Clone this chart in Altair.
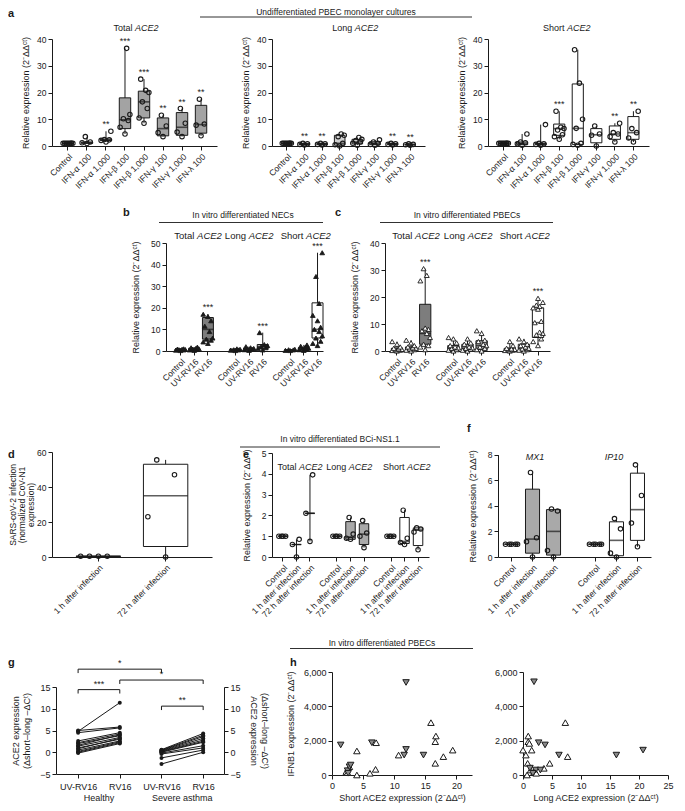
import altair as alt
import pandas as pd

FONT = "Liberation Sans"
INK = "#1a1a1a"
W, H = 669, 795
ONE = pd.DataFrame({"k": [0]})
RELT = "Relative expression (2⁻ΔΔᶜᵗ)"

# ---------------- panel a : undifferentiated PBEC monolayers ----------------
a_cats = ["Control", "IFN-α 100", "IFN-α 1,000", "IFN-β 100", "IFN-β 1,000",
          "IFN-γ 100", "IFN-γ 1,000", "IFN-λ 100"]
a1_lo = [1.0, 0.8, 1.5, 4.5, 8.5, 3.5, 3.5, 3.8]
a1_q1 = [1.0, 1.0, 2.0, 6.5, 10.5, 3.8, 4.0, 4.8]
a1_med = [1.0, 1.2, 2.2, 9.8, 16.5, 6.5, 7.0, 8.0]
a1_q3 = [1.0, 1.5, 2.6, 18.0, 20.5, 10.5, 12.5, 15.2]
a1_hi = [1.0, 3.5, 5.5, 36.5, 25.0, 11.5, 14.0, 17.5]
a1_star = ["", "", "**", "***", "***", "**", "**", "**"]
a1_pts = {
    "Control": [1, 1, 1, 1, 1, 1, 1, 1],
    "IFN-α 100": [0.9, 1.2, 1.5, 3.5],
    "IFN-α 1,000": [1.5, 2.1, 2.3, 2.4, 5.5],
    "IFN-β 100": [4.5, 7.0, 9.5, 10.2, 11.8, 36.5],
    "IFN-β 1,000": [8.5, 10.5, 14.0, 16.5, 20.0, 20.8, 25.0],
    "IFN-γ 100": [3.5, 5.0, 7.5, 11.5],
    "IFN-γ 1,000": [3.5, 5.2, 8.5, 14.0],
    "IFN-λ 100": [3.8, 7.8, 8.2, 17.5],
}
a2_lo = [1.0, 0.4, 0.4, 0.0, 0.3, 0.3, 0.4, 0.3]
a2_q1 = [1.0, 0.5, 0.5, 0.3, 0.8, 0.5, 0.5, 0.4]
a2_med = [1.0, 0.6, 0.7, 1.0, 1.5, 1.0, 0.7, 0.5]
a2_q3 = [1.0, 0.9, 0.9, 4.0, 2.5, 1.6, 0.9, 0.7]
a2_hi = [1.0, 1.0, 1.0, 4.5, 3.2, 2.3, 1.0, 0.8]
a2_star = ["", "**", "**", "", "", "", "**", "**"]
a2_pts = {
    "Control": [1, 1, 1, 1, 1, 1, 1, 1],
    "IFN-α 100": [0.4, 0.6, 0.8, 1.0],
    "IFN-α 1,000": [0.4, 0.6, 0.8, 1.0],
    "IFN-β 100": [0.0, 0.5, 1.0, 3.5, 4.0, 4.5],
    "IFN-β 1,000": [0.3, 1.0, 1.5, 2.0, 2.5, 3.2],
    "IFN-γ 100": [0.3, 0.6, 1.0, 1.5, 2.3],
    "IFN-γ 1,000": [0.4, 0.6, 0.8, 1.0],
    "IFN-λ 100": [0.3, 0.5, 0.6, 0.8],
}
a3_lo = [1.0, 0.3, 0.3, 2.5, 0.3, 0.0, 1.5, 1.5]
a3_q1 = [1.0, 0.5, 0.5, 4.0, 0.6, 1.2, 2.5, 2.5]
a3_med = [1.0, 1.0, 0.8, 6.5, 6.6, 4.2, 4.5, 5.0]
a3_q3 = [1.0, 1.5, 1.0, 8.2, 23.2, 6.5, 7.5, 11.0]
a3_hi = [1.0, 4.5, 8.0, 13.0, 36.0, 7.5, 8.5, 13.0]
a3_star = ["", "", "", "***", "", "", "**", "**"]
a3_pts = {
    "Control": [1, 1, 1, 1, 1, 1, 1, 1],
    "IFN-α 100": [0.3, 0.8, 1.2, 1.5, 4.5],
    "IFN-α 1,000": [0.3, 0.6, 0.8, 1.0, 8.0],
    "IFN-β 100": [2.5, 3.5, 4.2, 6.0, 6.5, 7.0, 13.0],
    "IFN-β 1,000": [0.3, 0.6, 1.0, 6.6, 10.0, 23.5, 36.0],
    "IFN-γ 100": [0.0, 4.0, 4.5, 7.5],
    "IFN-γ 1,000": [1.5, 3.5, 4.5, 5.0, 8.5],
    "IFN-λ 100": [1.5, 3.0, 5.0, 6.5, 13.0],
}

# ---------------- panels b, c : RV16 infection ----------------
rv_keys = ["T|Control", "T|UV-RV16", "T|RV16", "gap1",
           "L|Control", "L|UV-RV16", "L|RV16", "gap2",
           "S|Control", "S|UV-RV16", "S|RV16"]
rv_groups = [k for k in rv_keys if not k.startswith("gap")]
b_lo = [0.2, 0.3, 3.5, 0.2, 0.3, 0.5, 0.2, 0.3, 2.5]
b_q1 = [0.5, 0.6, 5.5, 0.4, 0.6, 1.0, 0.4, 0.6, 6.0]
b_med = [0.7, 0.9, 10.0, 0.6, 0.9, 2.0, 0.5, 1.0, 10.0]
b_q3 = [0.9, 1.3, 15.5, 0.9, 1.3, 3.0, 0.6, 1.5, 22.3]
b_hi = [1.0, 1.8, 17.0, 1.0, 2.0, 8.5, 0.8, 2.8, 45.5]
b_star = ["", "", "***", "", "", "***", "", "", "***"]
b_pts = {
    "T|Control": [0.2, 0.4, 0.5, 0.6, 0.7, 0.8, 0.9, 1.0],
    "T|UV-RV16": [0.3, 0.5, 0.7, 0.9, 1.0, 1.2, 1.5, 1.8],
    "T|RV16": [3.5, 4.2, 5.0, 5.5, 6.0, 9.0, 11.5, 14.0, 16.0, 17.0],
    "L|Control": [0.2, 0.4, 0.5, 0.6, 0.8, 1.0],
    "L|UV-RV16": [0.3, 0.6, 0.8, 1.0, 1.2, 1.5, 2.0],
    "L|RV16": [0.5, 1.0, 1.5, 2.0, 2.5, 3.0, 8.5],
    "S|Control": [0.2, 0.3, 0.5, 0.6, 0.8],
    "S|UV-RV16": [0.3, 0.6, 0.8, 1.0, 1.3, 1.8, 2.2, 2.8],
    "S|RV16": [2.5, 3.5, 4.5, 6.0, 7.0, 9.0, 10.0, 11.0, 14.0, 16.5, 22.0, 34.5, 45.5],
}
c_lo = [0.0, 0.0, 0.5, 0.0, 0.0, 0.0, 0.0, 0.0, 2.0]
c_q1 = [0.2, 0.3, 2.5, 0.2, 0.3, 0.5, 0.2, 0.3, 5.0]
c_med = [0.5, 0.8, 6.5, 1.0, 1.0, 2.0, 0.5, 1.0, 10.5]
c_q3 = [1.0, 1.5, 17.3, 2.0, 2.5, 3.8, 1.0, 2.5, 16.0]
c_hi = [3.5, 4.0, 30.5, 5.0, 4.5, 7.5, 3.5, 4.5, 19.5]
c_star = ["", "", "***", "", "", "", "", "", "***"]
c_pts = {
    "T|Control": [0.0, 0.2, 0.3, 0.5, 0.6, 0.8, 1.0, 1.5, 2.5, 3.5],
    "T|UV-RV16": [0.0, 0.3, 0.5, 0.8, 1.0, 1.2, 1.5, 2.0, 3.0, 4.0],
    "T|RV16": [0.5, 1.5, 2.0, 2.5, 5.0, 6.5, 7.5, 8.0, 8.5, 26.0, 28.0, 30.5],
    "L|Control": [0.0, 0.3, 0.5, 1.0, 1.2, 1.5, 2.0, 3.0, 4.5, 5.0],
    "L|UV-RV16": [0.0, 0.3, 0.6, 1.0, 1.2, 1.5, 2.5, 3.0, 4.5],
    "L|RV16": [0.0, 0.5, 1.0, 1.5, 2.0, 2.5, 3.5, 4.0, 6.5, 7.5],
    "S|Control": [0.0, 0.2, 0.3, 0.5, 0.6, 0.8, 1.0, 2.0, 3.5],
    "S|UV-RV16": [0.0, 0.3, 0.5, 0.8, 1.0, 1.5, 2.0, 2.5, 3.5, 4.5],
    "S|RV16": [2.0, 3.5, 4.5, 6.0, 6.5, 7.0, 10.5, 11.0, 15.5, 16.0, 16.5, 17.0, 18.0, 19.5],
}

# ---------------- panel d : SARS-CoV-2 ----------------
d_cats = ["1 h after infection", "72 h after infection"]
d_lo = [0.0, 0.0]
d_q1 = [0.3, 6.0]
d_med = [0.4, 35.0]
d_q3 = [0.5, 53.0]
d_hi = [0.6, 55.5]
d_pts = {"1 h after infection": [0.4, 0.4, 0.4, 0.4],
         "72 h after infection": [0.0, 23.0, 47.0, 55.5]}

# ---------------- panel e : BCi-NS1.1 ACE2 ----------------
e_keys = ["T|Control", "T|1 h after infection", "T|72 h after infection", "gap1",
          "L|Control", "L|1 h after infection", "L|72 h after infection", "gap2",
          "S|Control", "S|1 h after infection", "S|72 h after infection"]
e_groups = [k for k in e_keys if not k.startswith("gap")]
e_lo = [1.0, 0.0, 0.75, 1.0, 0.85, 0.45, 1.0, 0.6, 0.35]
e_q1 = [1.0, 0.6, 2.1, 1.0, 0.85, 0.6, 1.0, 0.65, 0.55]
e_med = [1.0, 0.6, 2.1, 1.0, 0.95, 1.1, 1.0, 0.75, 1.3]
e_q3 = [1.0, 0.6, 2.1, 1.0, 1.7, 1.6, 1.0, 1.9, 1.4]
e_hi = [1.0, 0.85, 3.95, 1.0, 1.9, 1.75, 1.0, 2.25, 1.4]
e_pts = {
    "T|Control": [1, 1, 1, 1],
    "T|1 h after infection": [0.0, 0.6, 0.85],
    "T|72 h after infection": [0.75, 2.1, 3.95],
    "L|Control": [1, 1, 1, 1],
    "L|1 h after infection": [0.85, 0.9, 1.1, 1.9],
    "L|72 h after infection": [0.45, 1.0, 1.15, 1.75],
    "S|Control": [1, 1, 1, 1],
    "S|1 h after infection": [0.6, 0.7, 0.9, 2.25],
    "S|72 h after infection": [0.35, 1.2, 1.35, 1.4],
}

# ---------------- panel f : MX1 / IP10 ----------------
f_keys = ["M|Control", "M|1 h after infection", "M|72 h after infection", "gap",
          "I|Control", "I|1 h after infection", "I|72 h after infection"]
f_groups = [k for k in f_keys if k != "gap"]
f_lo = [1.0, 0.0, 0.0, 1.0, 0.0, 0.8]
f_q1 = [1.0, 0.3, 0.15, 1.0, 0.1, 1.3]
f_med = [1.0, 1.4, 2.0, 1.0, 1.3, 3.7]
f_q3 = [1.0, 5.3, 3.7, 1.0, 2.75, 6.55]
f_hi = [1.0, 6.6, 3.75, 1.0, 3.0, 7.2]
f_pts = {
    "M|Control": [1, 1, 1, 1, 1],
    "M|1 h after infection": [0.0, 1.2, 1.5, 6.6],
    "M|72 h after infection": [0.0, 0.5, 3.6, 3.75],
    "I|Control": [1, 1, 1, 1, 1],
    "I|1 h after infection": [0.0, 0.3, 2.2, 3.0],
    "I|72 h after infection": [0.8, 2.65, 4.8, 7.2],
}

# ---------------- panel g : paired short-long ----------------
g_healthy_uv = [4.8, 5.0, 4.5, 2.6, 2.2, 2.0, 1.6, 1.4, 1.0, 0.8, 0.5, 0.2, 0.0, -0.2]
g_healthy_rv = [11.4, 5.8, 5.6, 4.5, 4.2, 3.8, 4.0, 3.4, 3.0, 3.2, 2.6, 2.4, 2.2, 2.0]
g_asthma_uv = [0.6, 0.5, 0.4, 0.3, 0.2, 0.1, 0.0, -0.2, -0.4, -1.3, -2.7]
g_asthma_rv = [4.3, 3.9, 3.6, 3.2, 2.8, 2.5, 2.3, 1.5, 1.0, 0.5, 0.0]
g_tick_names = ["UV-RV16", "RV16", "UV-RV16", "RV16"]
g_brk_from = [0, 1, 0, 2]
g_brk_to = [2, 3, 1, 3]
g_brk_level = [19.1, 16.6, 14.4, 10.6]
g_brk_label = ["*", "*", "***", "**"]
g_groups = ["Healthy", "Severe asthma"]
g_group_pos = [0.5, 2.5]

# ---------------- panel h : IFNB1 vs ACE2 ----------------
h1_up_x = [2.3, 2.5, 2.8, 4.0, 4.0, 6.1, 7.0, 7.1, 10.7, 15.9, 16.7, 16.6, 16.6, 17.9, 19.4]
h1_up_y = [200, 135, 480, 1400, 0, 100, 330, 1880, 1160, 3050, 2270, 1940, 680, 1070, 1450]
h1_dn_x = [1.4, 2.5, 2.8, 3.0, 6.4, 11.9, 11.9, 11.6, 14.7, 2.6]
h1_dn_y = [1750, 250, 480, 580, 1880, 5390, 1490, 1160, 1160, 100]
h2_up_x = [0.0, 0.5, 0.7, 0.8, 0.9, 0.9, 1.1, 1.5, 1.3, 1.9, 2.3, 4.6, 3.6, 7.3, 7.7]
h2_up_y = [1450, 1160, 0, 680, 2270, 1940, 1840, 1450, 290, 200, 100, 680, 390, 3050, 1070]
h2_dn_x = [1.9, 2.7, 3.8, 6.2, 16.1, 20.7, 2.2, 3.0, 1.7, 1.2]
h2_dn_y = [5430, 1880, 1750, 1160, 1160, 1450, 290, 290, 100, 400]


# ================= helpers =================
def ax(**kw):
    base = dict(domainColor=INK, tickColor=INK, labelColor=INK, titleColor=INK,
                labelFont=FONT, titleFont=FONT, labelFontSize=8.5, titleFontSize=9,
                titleFontWeight="normal", tickSize=4, labelPadding=2, grid=False,
                domainWidth=1, tickWidth=1, labelFlush=False)
    base.update(kw)
    return alt.Axis(**base)


def box_panel(keys, groups, lo, q1, med, q3, hi, pts, xr, yr, ydom, yvals,
              fills, stars, ytitle, pi, po, align=0.5, tpad=10,
              shape="circle", pfilled=False, pfill=INK, psize=20, nslots=7,
              label_expr=None, title_lh=None, title_size=9):
    stats = pd.DataFrame({"cat": groups, "lo": lo, "q1": q1, "med": med,
                          "q3": q3, "hi": hi, "fill": fills, "star": stars})
    rows = []
    for g in groups:
        for i, v in enumerate(pts[g]):
            rows.append({"cat": g, "val": v,
                         "slot": int(((i * 0.618034 + 0.5) % 1.0) * nslots)})
    pdf = pd.DataFrame(rows)
    step = (xr[1] - xr[0]) / (len(keys) - pi + 2 * po)
    bw = step * (1 - pi)
    xkw = dict(orient="bottom", offset=yr[0] - H, values=groups, labelAngle=-45, title=None)
    if label_expr:
        xkw["labelExpr"] = label_expr
    xenc = alt.X("cat:N", scale=alt.Scale(domain=keys, range=list(xr), paddingInner=pi,
                                          paddingOuter=po, align=align), axis=ax(**xkw))
    ykw = dict(orient="left", offset=-xr[0], values=yvals, title=ytitle, titlePadding=tpad,
               titleFontSize=title_size)
    if title_lh:
        ykw["titleLineHeight"] = title_lh
    ys = alt.Scale(domain=ydom, range=list(yr), nice=False, zero=False)
    yax = ax(**ykw)
    base = alt.Chart(stats)
    whisk = base.mark_rule(color=INK, strokeWidth=1).encode(
        x=xenc, y=alt.Y("lo:Q", scale=ys, axis=yax), y2="hi:Q")
    box = base.mark_bar(stroke=INK, strokeWidth=1, width=bw).encode(
        x=xenc, y=alt.Y("q1:Q", scale=ys, axis=yax), y2="q3:Q",
        fill=alt.Fill("fill:N", scale=None))
    medt = base.mark_tick(color=INK, thickness=1.6, size=bw).encode(
        x=xenc, y=alt.Y("med:Q", scale=ys, axis=yax))
    if pfilled:
        pm = alt.Chart(pdf).mark_point(shape=shape, filled=True, fill=pfill, stroke=INK,
                                       strokeWidth=0.9, size=psize, opacity=1)
    else:
        pm = alt.Chart(pdf).mark_point(shape=shape, filled=False, stroke=INK,
                                       strokeWidth=1.1, size=psize, opacity=1)
    points = pm.encode(x=xenc,
                       xOffset=alt.XOffset("slot:O", scale=alt.Scale(domain=list(range(nslots)))),
                       y=alt.Y("val:Q", scale=ys, axis=yax))
    st = base.mark_text(font=FONT, fontSize=9, color=INK, baseline="bottom", dy=-2).encode(
        x=xenc, y=alt.Y("hi:Q", scale=ys, axis=yax), text="star:N")
    return alt.layer(whisk, box, medt, points, st)


def txt(s, x, y, size=9, weight="normal", style="normal", align="center", baseline="middle"):
    return alt.Chart(ONE).mark_text(text=s, fontSize=size, fontWeight=weight, fontStyle=style,
                                    font=FONT, color=INK, align=align, baseline=baseline
                                    ).encode(x=alt.value(x), y=alt.value(y))


def mixed(normal, ital, cx, y, size=9):
    wn = len(normal) * 0.5 * size
    wi = len(ital) * 0.64 * size
    sp = 0.28 * size
    x0 = cx - (wn + sp + wi) / 2 + wn
    return [txt(normal, x0, y, size, align="right"),
            txt(ital, x0 + sp, y, size, style="italic", align="left")]


def hrule(x1, x2, y):
    return alt.Chart(ONE).mark_rule(color=INK, strokeWidth=0.9).encode(
        x=alt.value(x1), x2=alt.value(x2), y=alt.value(y))


def tone(n, c):
    return [c] * n


# ================= panels =================
GREY_T, GREY_L, GREY_A = "#7d7d7d", "#a9a9a9", "#a3a3a3"
rv_fills = [GREY_T] * 3 + [GREY_L] * 3 + ["white"] * 3

a1 = box_panel(a_cats, a_cats, a1_lo, a1_q1, a1_med, a1_q3, a1_hi, a1_pts,
               (44, 209), (138, 31), [0, 40], [0, 10, 20, 30, 40], tone(8, GREY_A),
               a1_star, RELT, 0.4, 0.54, tpad=6)
a2 = box_panel(a_cats, a_cats, a2_lo, a2_q1, a2_med, a2_q3, a2_hi, a2_pts,
               (264, 417), (138, 31), [0, 40], [0, 10, 20, 30, 40], tone(8, "#cfcfcf"),
               a2_star, RELT, 0.4, 0.54, tpad=6)
a3 = box_panel(a_cats, a_cats, a3_lo, a3_q1, a3_med, a3_q3, a3_hi, a3_pts,
               (480, 641), (138, 31), [0, 40], [0, 10, 20, 30, 40], tone(8, "white"),
               a3_star, RELT, 0.4, 0.54, tpad=6)
LX = "split(datum.value, '|')[1]"
pb = box_panel(rv_keys, rv_groups, b_lo, b_q1, b_med, b_q3, b_hi, b_pts,
               (158, 315), (343, 235), [0, 50], [0, 10, 20, 30, 40, 50], rv_fills,
               b_star, RELT, 0.2, 0.33, align=1, shape="triangle-up", pfilled=True,
               pfill=INK, psize=22, label_expr=LX)
pc = box_panel(rv_keys, rv_groups, c_lo, c_q1, c_med, c_q3, c_hi, c_pts,
               (377, 542), (343, 235), [0, 40], [0, 10, 20, 30, 40], rv_fills,
               c_star, RELT, 0.2, 0.45, shape="triangle-up", pfilled=True,
               pfill="white", psize=24, label_expr=LX)
pd_ = box_panel(d_cats, d_cats, d_lo, d_q1, d_med, d_q3, d_hi, d_pts,
                (44, 204), (549, 444), [0, 60], [0, 20, 40, 60], tone(2, "white"),
                ["", ""], ["SARS-coV-2 infection", "(normalized CoV-N1", "expression)"],
                0.34, 0.36, tpad=1, title_lh=9, title_size=8.5, nslots=5)
pe = box_panel(e_keys, e_groups, e_lo, e_q1, e_med, e_q3, e_hi, e_pts,
               (264, 421), (549, 445), [0, 5], [0, 1, 2, 3, 4, 5],
               ["white"] * 3 + [GREY_L] * 3 + ["white"] * 3, tone(9, ""), RELT,
               0.3, 0.46, label_expr=LX)
pf = box_panel(f_keys, f_groups, f_lo, f_q1, f_med, f_q3, f_hi, f_pts,
               (490, 643), (549, 446.6), [0, 8], [0, 2, 4, 6, 8],
               [GREY_L] * 3 + ["white"] * 3, tone(6, ""), RELT, 0.33, 0.31,
               label_expr=LX)

# ---- panel g ----
g_rows = []
for i, (u, r) in enumerate(zip(g_healthy_uv, g_healthy_rv)):
    g_rows += [{"pid": f"h{i}", "pos": 0, "val": u}, {"pid": f"h{i}", "pos": 1, "val": r}]
for i, (u, r) in enumerate(zip(g_asthma_uv, g_asthma_rv)):
    g_rows += [{"pid": f"a{i}", "pos": 2, "val": u}, {"pid": f"a{i}", "pos": 3, "val": r}]
gdf = pd.DataFrame(g_rows)
gxs = alt.Scale(domain=[-0.53, 3.5], range=[48, 216], nice=False, zero=False)
gys = alt.Scale(domain=[-5, 15], range=[766, 679], nice=False, zero=False)
g_name_expr = "[" + ",".join(f"'{n}'" for n in g_tick_names) + "][datum.value]"
g_xaxis = ax(orient="bottom", offset=766 - H, values=[0, 1, 2, 3], title=None,
             labelExpr=g_name_expr, labelFontSize=9, labelPadding=4, labelAngle=0)
g_title = ["ACE2 expression", "(Δshort–long –ΔCᵗ)"]


def gX(field):
    return alt.X(field, type="quantitative", scale=gxs, axis=g_xaxis)


g_lines = alt.Chart(gdf).mark_line(color=INK, strokeWidth=1).encode(
    x=gX("pos"), y=alt.Y("val:Q", scale=gys,
                         axis=ax(orient="left", offset=-48, values=[-5, 0, 5, 10, 15],
                                 title=g_title, titlePadding=8, labelFontSize=9)),
    detail="pid:N")
g_pts = alt.Chart(gdf).mark_circle(size=16, color=INK, opacity=1).encode(
    x=gX("pos"), y=alt.Y("val:Q", scale=gys, axis=None))
g_right = alt.Chart(gdf).mark_point(opacity=0).encode(
    x=gX("pos"), y=alt.Y("val:Q", scale=gys,
                         axis=ax(orient="right", offset=216 - W, values=[-5, 0, 5, 10, 15],
                                 title=list(reversed(g_title)), titleAngle=90, titlePadding=8,
                                 labelFontSize=9)))
bdf = pd.DataFrame({"x1": g_brk_from, "x2": g_brk_to, "lev": g_brk_level, "lab": g_brk_label})
bb = alt.Chart(bdf).transform_calculate(mid="(datum.x1 + datum.x2) / 2", low="datum.lev - 0.9")
by = alt.Y("lev:Q", scale=gys, axis=None)
g_b1 = bb.mark_rule(color=INK, strokeWidth=1).encode(x=gX("x1"), x2="x2:Q", y=by)
g_b2 = bb.mark_rule(color=INK, strokeWidth=1).encode(x=gX("x1"), y=by, y2="low:Q")
g_b3 = bb.mark_rule(color=INK, strokeWidth=1).encode(x=gX("x2"), y=by, y2="low:Q")
g_b4 = bb.mark_text(font=FONT, fontSize=9, color=INK, baseline="bottom", dy=-1).encode(
    x=gX("mid"), y=by, text="lab:N")
g_grp = alt.Chart(pd.DataFrame({"lab": g_groups, "pos": g_group_pos})).mark_text(
    font=FONT, fontSize=9, color=INK, baseline="middle").encode(
    x=gX("pos"), y=alt.value(790), text="lab:N")
pg = alt.layer(g_lines, g_pts, g_right, g_b1, g_b2, g_b3, g_b4, g_grp).resolve_axis(y="independent")


# ---- panel h ----
def scatter(upx, upy, dnx, dny, xr, xdom, xvals, xtitle, ytitle):
    hys = alt.Scale(domain=[0, 6000], range=[767, 664], nice=False, zero=False)
    hxs = alt.Scale(domain=xdom, range=list(xr), nice=False, zero=False)
    xa = ax(orient="bottom", offset=767 - H, values=xvals, title=xtitle, titlePadding=3,
            labelFontSize=9)
    ykw = dict(orient="left", offset=-xr[0], values=[0, 2000, 4000, 6000],
               labelExpr="format(datum.value, ',.0f')",
               title=ytitle, titlePadding=8, labelFontSize=9)
    ya = ax(**ykw)
    up = alt.Chart(pd.DataFrame({"x": upx, "y": upy})).mark_point(
        shape="triangle-up", filled=True, fill="white", stroke=INK, strokeWidth=1,
        size=42, opacity=1).encode(x=alt.X("x:Q", scale=hxs, axis=xa),
                                   y=alt.Y("y:Q", scale=hys, axis=ya))
    dn = alt.Chart(pd.DataFrame({"x": dnx, "y": dny})).mark_point(
        shape="triangle-down", filled=True, fill="#8a8a8a", stroke=INK, strokeWidth=1,
        size=42, opacity=1).encode(x=alt.X("x:Q", scale=hxs, axis=xa),
                                   y=alt.Y("y:Q", scale=hys, axis=ya))
    return alt.layer(up, dn)


ph1 = scatter(h1_up_x, h1_up_y, h1_dn_x, h1_dn_y, (324, 464), [0, 22.5],
              [0, 5, 10, 15, 20], "Short ACE2 expression (2⁻ΔΔᶜᵗ)",
              "IFNB1 expression (2⁻ΔΔᶜᵗ)")
ph2 = scatter(h2_up_x, h2_up_y, h2_dn_x, h2_dn_y, (515, 660), [0, 25],
              [0, 5, 10, 15, 20, 25], "Long ACE2 expression (2⁻ΔΔᶜᵗ)", None)

# ================= annotations =================
ann = [
    txt("a", 0, 0, 11, weight="bold", align="left", baseline="top"),
    txt("Undifferentiated PBEC monolayer cultures", 328, 3.5, 8.5),
    hrule(192, 464, 9),
    *mixed("Total", "ACE2", 126, 20),
    *mixed("Long", "ACE2", 348, 20),
    *mixed("Short", "ACE2", 558, 20),
    txt("b", 115, 205, 11, weight="bold", align="left"),
    txt("In vitro differentiated NECs", 235, 207, 8.5),
    hrule(151, 315, 214.5),
    *mixed("Total", "ACE2", 188, 228, 9.5),
    *mixed("Long", "ACE2", 242, 228, 9.5),
    *mixed("Short", "ACE2", 297, 228, 9.5),
    txt("c", 327, 205, 11, weight="bold", align="left"),
    txt("In vitro differentiated PBECs", 459, 207, 8.5),
    hrule(372, 545, 214.5),
    *mixed("Total", "ACE2", 406, 228, 9.5),
    *mixed("Long", "ACE2", 461, 228, 9.5),
    *mixed("Short", "ACE2", 516, 228, 9.5),
    txt("In vitro differentiated BCi-NS1.1", 332, 431, 8.5),
    hrule(232, 432, 439),
    txt("d", 0, 447, 11, weight="bold", align="left"),
    txt("e", 235, 447, 11, weight="bold", align="left"),
    txt("f", 459, 421, 11, weight="bold", align="left"),
    *mixed("Total", "ACE2", 290, 459, 9),
    *mixed("Long", "ACE2", 342, 459, 9),
    *mixed("Short", "ACE2", 398, 459, 9),
    txt("MX1", 527, 449, 9, style="italic"),
    txt("IP10", 606, 449, 9, style="italic"),
    txt("g", 0, 655, 11, weight="bold", align="left"),
    txt("h", 282, 655, 11, weight="bold", align="left"),
    txt("In vitro differentiated PBECs", 374, 635, 8.5),
    hrule(282, 465, 640.5),
]

chart = alt.layer(a1, a2, a3, pb, pc, pd_, pe, pf, pg, ph1, ph2, *ann).resolve_scale(
    x="independent", y="independent", xOffset="independent"
).properties(
    width=W, height=H, padding=0, autosize=alt.AutoSizeParams(type="none")
).configure(background="white").configure_view(stroke=None)

chart.save("out.html", embed_options={"renderer": "svg", "actions": False})
